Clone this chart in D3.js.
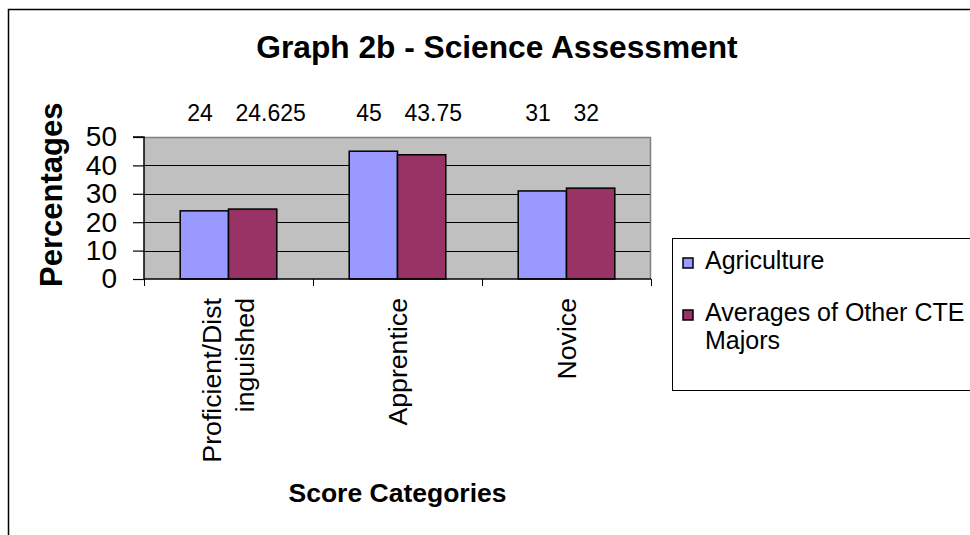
<!DOCTYPE html>
<html><head><meta charset="utf-8">
<script src="https://cdn.jsdelivr.net/npm/d3@7"></script>
<style>
html,body{margin:0;padding:0;background:#fff;}
svg{display:block;font-family:"Liberation Sans",Arial,sans-serif;}
</style></head>
<body><svg id="c" width="970" height="535"></svg>
<script>
const categories = ["Proficient/Distinguished", "Apprentice", "Novice"];
const categoryLines = [["Proficient/Dist", "inguished"], ["Apprentice"], ["Novice"]];
const seriesNames = ["Agriculture", "Averages of Other CTE Majors"];
const agriculture = [24, 45, 31];
const otherCTE = [24.625, 43.75, 32];
const yTicks = [0, 10, 20, 30, 40, 50];
const legendLines = [["Agriculture"], ["Averages of Other CTE", "Majors"]];
const colors = ["#9999FF", "#993366"];

const svg = d3.select("#c");
const values = [agriculture, otherCTE];

// outer chart border (extends beyond right/bottom)
svg.append("path").attr("d", "M8.5,540 V9.5 H975").attr("fill", "none").attr("stroke", "#000").attr("stroke-width", 1.5);

const plot = {l: 144, r: 651, t: 137, b: 279};
const y = d3.scaleLinear().domain([0, 50]).range([plot.b, plot.t]);
const x0 = d3.scaleBand().domain(categories).range([plot.l, plot.r]).padding(0);
const x1 = d3.scaleBand().domain(seriesNames).range([0, x0.bandwidth()]).paddingInner(0).paddingOuter(0.75);

// plot area
svg.append("rect").attr("x", plot.l).attr("y", plot.t).attr("width", plot.r - plot.l).attr("height", plot.b - plot.t)
  .attr("fill", "#C0C0C0");
svg.append("path").attr("d", `M${plot.l},${plot.t + 0.5} H${plot.r - 0.5} V${plot.b}`)
  .attr("fill", "none").attr("stroke", "#808080").attr("stroke-width", 1.5);

// gridlines
svg.append("g").selectAll("line").data(yTicks.filter(d => d > 0 && d < 50)).join("line")
  .attr("x1", plot.l).attr("x2", plot.r - 1).attr("y1", d => Math.round(y(d)) + 0.5).attr("y2", d => Math.round(y(d)) + 0.5)
  .attr("stroke", "#000").attr("stroke-width", 1);

// bars + value labels
categories.forEach((c, i) => {
  seriesNames.forEach((s, j) => {
    const v = values[j][i];
    svg.append("rect")
      .attr("x", x0(c) + x1(s)).attr("y", y(v))
      .attr("width", x1.bandwidth()).attr("height", y(0) - y(v))
      .attr("fill", colors[j]).attr("stroke", "#000").attr("stroke-width", 1.5);
    svg.append("text")
      .attr("x", x0(c) + x1(s)).attr("dx", 7).attr("y", 121)
      .attr("text-anchor", "start").attr("font-size", 23).attr("fill", "#000")
      .text(v);
  });
});

// y axis
const yAxis = d3.axisLeft(y).tickValues(yTicks).tickSize(11).tickPadding(16).tickFormat(d3.format("d"));
const gy = svg.append("g").attr("transform", `translate(${plot.l},0)`).call(yAxis);
gy.select(".domain").attr("stroke", "#000").attr("stroke-width", 1.5).attr("d", `M-11,${plot.t}H0V${plot.b}`);
gy.selectAll(".tick line").attr("stroke", "#000").attr("stroke-width", 1.2);
gy.selectAll(".tick text").attr("font-size", 28).attr("fill", "#000").attr("font-family", "Liberation Sans, Arial, sans-serif");

// x axis
const boundaries = categories.map(c => x0(c)).concat([plot.r]);
const gx = svg.append("g");
gx.append("line").attr("x1", plot.l).attr("x2", plot.r).attr("y1", plot.b).attr("y2", plot.b).attr("stroke", "#000").attr("stroke-width", 1.5);
gx.selectAll("line.tk").data(boundaries).join("line").attr("class", "tk")
  .attr("x1", d => Math.round(d) + 0.5).attr("x2", d => Math.round(d) + 0.5).attr("y1", plot.b).attr("y2", plot.b + 7)
  .attr("stroke", "#000").attr("stroke-width", 1);
categories.forEach((c, i) => {
  const lines = categoryLines[i];
  const cx = x0(c) + x0.bandwidth() / 2;
  const t = svg.append("text").attr("transform", `translate(${cx},298) rotate(-90)`)
    .attr("text-anchor", "end").attr("font-size", 26.7).attr("fill", "#000");
  lines.forEach((ln, k) => {
    t.append("tspan").attr("x", 0)
      .attr("dy", k === 0 ? (9 - (lines.length - 1) * 16.5) : 33)
      .text(ln);
  });
});

// title & axis titles
svg.append("text").attr("x", 497).attr("y", 58).attr("text-anchor", "middle")
  .attr("font-size", 31.7).attr("font-weight", "bold").text("Graph 2b - Science Assessment");
svg.append("text").attr("x", (plot.l + plot.r) / 2).attr("y", 502).attr("text-anchor", "middle")
  .attr("font-size", 26.5).attr("font-weight", "bold").text("Score Categories");
svg.append("text").attr("transform", `translate(62,287) rotate(-90)`).attr("text-anchor", "start")
  .attr("font-size", 31).attr("font-weight", "bold").text("Percentages");

// legend
const lg = svg.append("g");
lg.append("rect").attr("x", 672.5).attr("y", 238.5).attr("width", 320).attr("height", 152)
  .attr("fill", "#fff").attr("stroke", "#000").attr("stroke-width", 1);
const legendY = [269, 321];
seriesNames.forEach((s, j) => {
  lg.append("rect").attr("x", 683).attr("y", legendY[j] - 11).attr("width", 10).attr("height", 10)
    .attr("fill", colors[j]).attr("stroke", "#000").attr("stroke-width", 1.5);
  const t = lg.append("text").attr("x", 705).attr("y", legendY[j]).attr("font-size", 25).attr("fill", "#000");
  legendLines[j].forEach((ln, k) => {
    t.append("tspan").attr("x", 705).attr("dy", k === 0 ? 0 : 28).text(ln);
  });
});
</script></body></html>
